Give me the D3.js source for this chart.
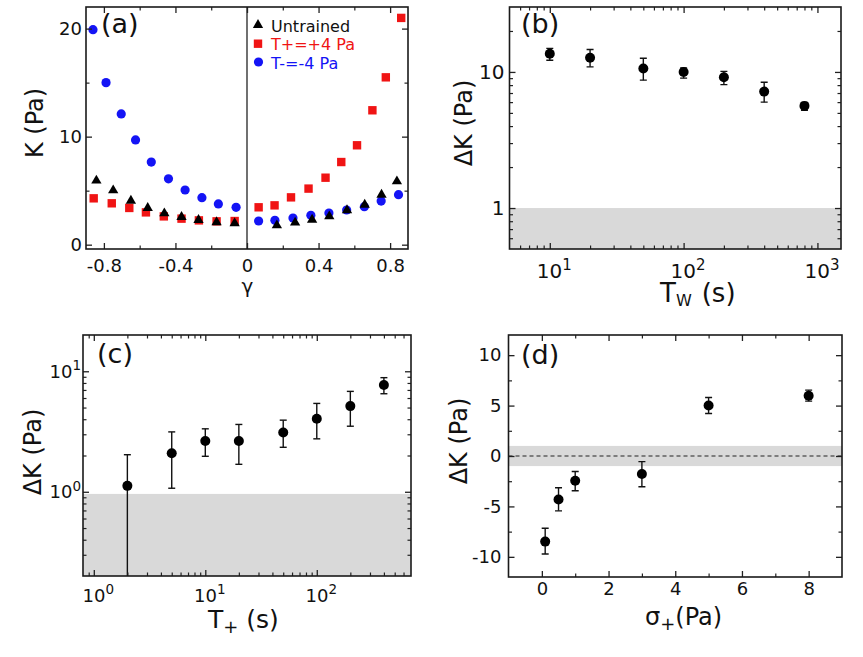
<!DOCTYPE html>
<html>
<head>
<meta charset="utf-8">
<script src="https://cdn.jsdelivr.net/npm/d3@7"></script>
<style>
    body { margin: 0; background: #fff; }
    svg text { font-family: "DejaVu Sans", Verdana, sans-serif; fill: #111; }
</style>
</head>
<body>
<div id="chart"></div>
<script>
// ---- (a) K vs strain gamma ----
const gammaUntrained = [-0.842, -0.748, -0.649, -0.555, -0.462, -0.366, -0.271, -0.170, -0.069,
    0.167, 0.269, 0.364, 0.460, 0.559, 0.658, 0.752, 0.838];
const kUntrained = [5.93, 5.03, 4.07, 3.40, 2.90, 2.56, 2.28, 2.07, 1.98,
    1.79, 2.04, 2.31, 2.62, 3.18, 3.70, 4.63, 5.86];
const gammaPlus = [-0.857, -0.756, -0.658, -0.565, -0.465, -0.366, -0.269, -0.170, -0.069,
    0.065, 0.154, 0.246, 0.344, 0.439, 0.527, 0.615, 0.701, 0.776, 0.862];
const kPlus = [4.29, 3.83, 3.40, 2.99, 2.62, 2.41, 2.25, 2.16, 2.19,
    3.46, 3.64, 4.38, 5.19, 6.20, 7.65, 9.20, 12.44, 15.49, 20.99];
const gammaMinus = [-0.861, -0.788, -0.703, -0.623, -0.535, -0.439, -0.346, -0.252, -0.160, -0.061,
    0.065, 0.156, 0.257, 0.357, 0.458, 0.557, 0.656, 0.750, 0.847];
const kMinus = [19.9, 15.0, 12.1, 9.7, 7.65, 6.1, 5.06, 4.35, 3.77, 3.46,
    2.19, 2.25, 2.47, 2.72, 2.93, 3.21, 3.52, 4.04, 4.63];
const legendLabels = ["Untrained", "T+=+4 Pa", "T-=-4 Pa"];

// ---- (b) dK vs waiting time ----
const tw = [10, 20, 50, 100, 200, 400, 800];
const dkTw = [13.6, 12.7, 10.6, 10.0, 9.14, 7.17, 5.63];
const dkTwHi = [14.9, 14.6, 12.6, 10.7, 10.1, 8.4, 5.96];
const dkTwLo = [12.2, 10.9, 8.7, 9.0, 8.07, 6.0, 5.23];

// ---- (c) dK vs training time ----
const tPlus = [2, 5, 10, 20, 50, 100, 200, 400];
const dkTp = [1.12, 2.09, 2.64, 2.64, 3.10, 4.03, 5.14, 7.69];
const dkTpHi = [2.03, 3.14, 3.33, 3.62, 3.93, 5.41, 6.81, 8.85];
const dkTpLo = [0.1, 1.07, 1.97, 1.69, 2.34, 2.75, 3.50, 6.51];

// ---- (d) dK vs training stress ----
const sigmaPlus = [0.1, 0.5, 1, 3, 5, 8];
const dkSig = [-8.49, -4.31, -2.45, -1.79, 5.01, 5.97];
const dkSigHi = [-7.16, -3.15, -1.53, -0.56, 5.80, 6.53];
const dkSigLo = [-9.72, -5.44, -3.45, -3.05, 4.21, 5.44];

const svg = d3.select("#chart").append("svg")
    .attr("width", 863)
    .attr("height", 657);

function logMinor(lo, hi) {
    let out = [];
    for (let e = -1; e < 4; e++) {
        for (let m = 2; m < 10; m++) {
            let v = m * Math.pow(10, e);
            if (v > lo * 1.001 && v < hi * 0.999) out.push(v);
        }
    }
    return out;
}

// superscript labels for log axes
function powLabel(sel, size) {
    sel.each(function(d) {
        let t = d3.select(this);
        t.text(null);
        t.append("tspan").text("10");
        t.append("tspan").attr("dy", "-0.55em").style("font-size", size + "px").text(Math.round(Math.log10(d)));
    });
}

// frame, inward ticks on all four sides, clipped plot group
function panel(p) {
    let g = svg.append("g");
    let x = p.x, y = p.y;
    let b = p.box;

    g.append("clipPath").attr("id", "clip-" + p.id)
        .append("rect")
        .attr("x", b.left).attr("y", b.top)
        .attr("width", b.right - b.left).attr("height", b.bottom - b.top);

    let plot = g.append("g").attr("clip-path", `url(#clip-${p.id})`);

    let axes = [
        {a: d3.axisBottom(x), t: `translate(0,${b.bottom})`, ticks: p.xTicks, minor: p.xMinor, lab: true, xy: "x"},
        {a: d3.axisTop(x), t: `translate(0,${b.top})`, ticks: p.xTicks, minor: p.xMinor, lab: false, xy: "x"},
        {a: d3.axisLeft(y), t: `translate(${b.left},0)`, ticks: p.yTicks, minor: p.yMinor, lab: true, xy: "y"},
        {a: d3.axisRight(y), t: `translate(${b.right},0)`, ticks: p.yTicks, minor: p.yMinor, lab: false, xy: "y"}
    ];

    let axisGroups = [];
    axes.forEach(ax => {
        let scale = ax.xy === "x" ? x : y;
        let major = ax.a.scale(scale).tickValues(ax.ticks).tickSizeInner(-6).tickSizeOuter(0);
        let ag = g.append("g").attr("transform", ax.t).call(major);
        ag.select(".domain").remove();
        ag.selectAll("line").attr("stroke", "#222").attr("stroke-width", 1.3);
        if (!ax.lab) ag.selectAll("text").remove();
        else ag.selectAll("text").style("font-size", p.tickFont + "px").attr("fill", "#111");
        axisGroups.push(ag);

        let mg = g.append("g").attr("transform", ax.t)
            .call(ax.a.scale(scale).tickValues(ax.minor).tickSizeInner(-3.5).tickSizeOuter(0).tickFormat(""));
        mg.select(".domain").remove();
        mg.selectAll("line").attr("stroke", "#222").attr("stroke-width", 1.2);
        mg.selectAll("text").remove();
    });

    // bottom labels: baseline given in page pixels
    let bt = axisGroups[0].selectAll("text").attr("dy", null).attr("y", p.xLabY - b.bottom);
    let lt = axisGroups[2].selectAll("text").attr("x", -p.yLabGap);
    if (p.xFormat) bt.text(p.xFormat);
    if (p.yFormat) lt.text(p.yFormat);
    if (p.xPow) { powLabel(bt, p.tickFont * 0.75); bt.attr("x", 4); }
    if (p.yPow) powLabel(lt, p.tickFont * 0.75);

    g.append("rect")
        .attr("x", b.left).attr("y", b.top)
        .attr("width", b.right - b.left).attr("height", b.bottom - b.top)
        .attr("fill", "none").attr("stroke", "#1a1a1a").attr("stroke-width", 1.6);

    // panel letter
    g.append("text")
        .attr("x", p.letterX).attr("y", p.letterY)
        .style("font-size", "27px")
        .text(p.letter);

    return {g: g, plot: plot};
}

function errorBars(plot, x, y, xs, lo, hi, cap) {
    let idx = d3.range(xs.length);
    plot.selectAll(null).data(idx).enter().append("line")
        .attr("x1", i => x(xs[i])).attr("x2", i => x(xs[i]))
        .attr("y1", i => y(lo[i])).attr("y2", i => y(hi[i]))
        .attr("stroke", "#111").attr("stroke-width", 1.4);
    [lo, hi].forEach(arr => {
        plot.selectAll(null).data(idx).enter().append("line")
            .attr("x1", i => x(xs[i]) - cap).attr("x2", i => x(xs[i]) + cap)
            .attr("y1", i => y(arr[i])).attr("y2", i => y(arr[i]))
            .attr("stroke", "#111").attr("stroke-width", 1.4);
    });
}

function dots(plot, x, y, xs, ys) {
    plot.selectAll(null).data(d3.range(xs.length)).enter().append("circle")
        .attr("cx", i => x(xs[i])).attr("cy", i => y(ys[i]))
        .attr("r", 5).attr("fill", "#000");
}

function yTitle(text, x, yc) {
    svg.append("text")
        .attr("transform", `translate(${x},${yc}) rotate(-90)`)
        .attr("text-anchor", "middle")
        .style("font-size", "24px")
        .text(text);
}

// ================= (a) =================
let boxA = {left: 86, right: 408, top: 7, bottom: 249};
let xA = d3.scaleLinear().domain([-0.9, 0.9]).range([boxA.left, boxA.right]);
let yA = d3.scaleLinear().domain([-0.4, 22]).range([boxA.bottom, boxA.top]);
let pA = panel({
    id: "a", box: boxA, x: xA, y: yA,
    xTicks: [-0.8, -0.4, 0, 0.4, 0.8], xMinor: [-0.6, -0.2, 0.2, 0.6],
    yTicks: [0, 10, 20], yMinor: [5, 15],
    xFormat: d => d === 0 ? "0" : d3.format(".1f")(d).replace("−", "-"),
    tickFont: 18, xLabY: 271.5, yLabGap: 4,
    letter: "(a)", letterX: 101, letterY: 33
});

pA.plot.append("line")
    .attr("x1", xA(0)).attr("x2", xA(0))
    .attr("y1", boxA.top).attr("y2", boxA.bottom)
    .attr("stroke", "#111").attr("stroke-width", 1.2);

pA.plot.selectAll(null).data(d3.range(gammaPlus.length)).enter().append("rect")
    .attr("x", i => xA(gammaPlus[i]) - 4.2).attr("y", i => yA(kPlus[i]) - 4.2)
    .attr("width", 8.4).attr("height", 8.4)
    .attr("fill", "#f01414");

pA.plot.selectAll(null).data(d3.range(gammaMinus.length)).enter().append("circle")
    .attr("cx", i => xA(gammaMinus[i])).attr("cy", i => yA(kMinus[i]))
    .attr("r", 4.6).attr("fill", "#1414f5");

let tri = d3.symbol(d3.symbolTriangle, 46);
pA.plot.selectAll(null).data(d3.range(gammaUntrained.length)).enter().append("path")
    .attr("d", tri)
    .attr("transform", i => `translate(${xA(gammaUntrained[i])},${yA(kUntrained[i])})`)
    .attr("fill", "#000");

// legend
let legColors = ["#111", "#f01414", "#1414f5"];
let leg = svg.append("g").attr("transform", "translate(258,25)");
leg.append("path").attr("d", tri).attr("fill", "#000");
leg.append("rect").attr("x", -4.2).attr("y", 18.7 - 4.2).attr("width", 8.4).attr("height", 8.4).attr("fill", legColors[1]);
leg.append("circle").attr("cx", 0.5).attr("cy", 37).attr("r", 4.6).attr("fill", legColors[2]);
legendLabels.forEach((l, i) => {
    leg.append("text")
        .attr("x", 13).attr("y", 6.5 + i * 18.6)
        .style("font-size", "16px")
        .style("fill", legColors[i])
        .text(l);
});

yTitle("K (Pa)", 43, 123);
svg.append("text")
    .attr("x", 247.5).attr("y", 293)
    .attr("text-anchor", "middle")
    .style("font-size", "20px")
    .text("γ");

// ================= (b) =================
let boxB = {left: 509.5, right: 841, top: 7, bottom: 249};
let xB = d3.scaleLog().domain([5, 1500]).range([boxB.left, boxB.right]);
let yB = d3.scaleLog().domain([0.5, 30]).range([boxB.bottom, boxB.top]);
let pB = panel({
    id: "b", box: boxB, x: xB, y: yB,
    xTicks: [10, 100, 1000], xMinor: logMinor(5, 1500),
    yTicks: [1, 10], yMinor: logMinor(0.5, 30),
    xPow: true, yFormat: d => String(d),
    tickFont: 20, xLabY: 278, yLabGap: 5,
    letter: "(b)", letterX: 521, letterY: 33
});

pB.plot.append("rect")
    .attr("x", boxB.left).attr("width", boxB.right - boxB.left)
    .attr("y", yB(1)).attr("height", yB(0.5) - yB(1))
    .attr("fill", "#d9d9d9");

errorBars(pB.plot, xB, yB, tw, dkTwLo, dkTwHi, 3.5);
dots(pB.plot, xB, yB, tw, dkTw);

yTitle("ΔK (Pa)", 472, 123);
let tb = svg.append("text").attr("x", 660).attr("y", 302).style("font-size", "26px");
tb.append("tspan").text("T");
tb.append("tspan").attr("dy", 4).style("font-size", "16px").text("W");
tb.append("tspan").attr("dy", -4).attr("dx", 10).text("(s)");

// ================= (c) =================
let boxC = {left: 83, right: 411, top: 335, bottom: 576};
let xC = d3.scaleLog().domain([0.8, 700]).range([boxC.left, boxC.right]);
let yC = d3.scaleLog().domain([0.2, 20]).range([boxC.bottom, boxC.top]);
let pC = panel({
    id: "c", box: boxC, x: xC, y: yC,
    xTicks: [1, 10, 100], xMinor: logMinor(0.8, 700),
    yTicks: [1, 10], yMinor: logMinor(0.2, 20),
    xPow: true, yPow: true,
    tickFont: 18, xLabY: 601.5, yLabGap: 2,
    letter: "(c)", letterX: 97, letterY: 363
});

pC.plot.append("rect")
    .attr("x", boxC.left).attr("width", boxC.right - boxC.left)
    .attr("y", yC(0.96)).attr("height", yC(0.2) - yC(0.96))
    .attr("fill", "#d9d9d9");

errorBars(pC.plot, xC, yC, tPlus, dkTpLo, dkTpHi, 3.5);
dots(pC.plot, xC, yC, tPlus, dkTp);

yTitle("ΔK (Pa)", 41, 452);
let tc = svg.append("text").attr("x", 208).attr("y", 628).style("font-size", "25px");
tc.append("tspan").text("T");
tc.append("tspan").attr("dy", 5).style("font-size", "18px").text("+");
tc.append("tspan").attr("dy", -5).text(" (s)");

// ================= (d) =================
let boxD = {left: 508.5, right: 842, top: 335, bottom: 577};
let xD = d3.scaleLinear().domain([-1, 9]).range([boxD.left, boxD.right]);
let yD = d3.scaleLinear().domain([-12, 12]).range([boxD.bottom, boxD.top]);
let pD = panel({
    id: "d", box: boxD, x: xD, y: yD,
    xTicks: [0, 2, 4, 6, 8], xMinor: [1, 3, 5, 7],
    yTicks: [-10, -5, 0, 5, 10], yMinor: [-7.5, -2.5, 2.5, 7.5],
    yFormat: d => String(d),
    tickFont: 18, xLabY: 595, yLabGap: 7,
    letter: "(d)", letterX: 521, letterY: 364
});

pD.plot.append("rect")
    .attr("x", boxD.left).attr("width", boxD.right - boxD.left)
    .attr("y", yD(1)).attr("height", yD(-1) - yD(1))
    .attr("fill", "#d9d9d9");
pD.plot.append("line")
    .attr("x1", boxD.left).attr("x2", boxD.right)
    .attr("y1", yD(0)).attr("y2", yD(0))
    .attr("stroke", "#222").attr("stroke-width", 1.2)
    .attr("stroke-dasharray", "4,3");

errorBars(pD.plot, xD, yD, sigmaPlus, dkSigLo, dkSigHi, 3.5);
dots(pD.plot, xD, yD, sigmaPlus, dkSig);

yTitle("ΔK (Pa)", 467, 441);
let td = svg.append("text").attr("x", 645).attr("y", 625).style("font-size", "24px");
td.append("tspan").text("σ");
td.append("tspan").attr("dy", 5).style("font-size", "18px").text("+");
td.append("tspan").attr("dy", -5).text("(Pa)");
</script>
</body>
</html>
